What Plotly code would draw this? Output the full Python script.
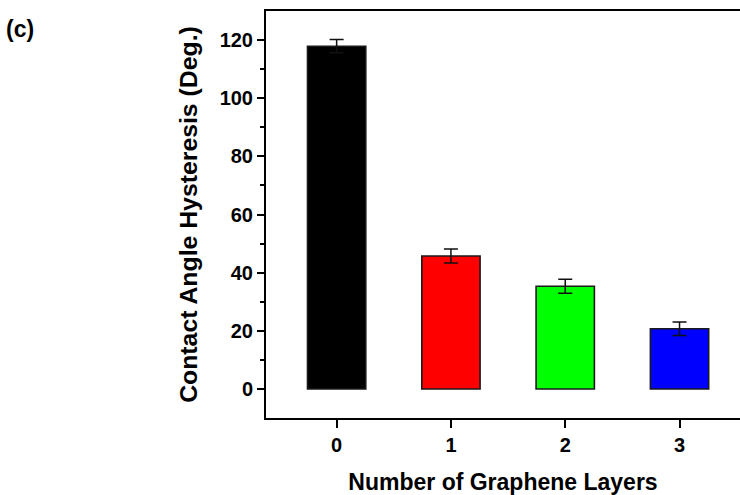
import plotly.graph_objects as go

layers = [0, 1, 2, 3]
hysteresis = [117.9, 45.7, 35.3, 20.7]
errors = [2.3, 2.4, 2.4, 2.3]
bar_colors = ["#000000", "#FF0000", "#00FF00", "#0000FF"]
y_ticks = [0, 20, 40, 60, 80, 100, 120]
x_ticks = [0, 1, 2, 3]

FONT = "Liberation Sans, Arial, sans-serif"

fig = go.Figure()
fig.add_trace(go.Bar(
    x=layers, y=hysteresis, width=0.51,
    marker=dict(color=bar_colors, line=dict(color="#1a1a1a", width=1.6)),
    error_y=dict(type="data", array=errors, visible=True, color="#111111",
                 thickness=1.5, width=7),
    showlegend=False,
))

fig.update_layout(
    width=740, height=495,
    margin=dict(l=266, r=0, t=11, b=77),
    paper_bgcolor="white", plot_bgcolor="white",
    font=dict(family=FONT, color="black"),
    bargap=0.5,
)
fig.update_xaxes(
    automargin=False,
    range=[-0.618, 3.529],
    tickvals=x_ticks, ticktext=[str(v) for v in x_ticks],
    showline=True, linecolor="black", linewidth=2, mirror=True,
    ticks="outside", ticklen=8, tickwidth=2, tickcolor="black",
    tickfont=dict(size=20, family=FONT, weight="bold"),
    showgrid=False, zeroline=False,
    title=dict(text="Number of Graphene Layers", standoff=21,
               font=dict(size=23, family=FONT, weight="bold")),
)
fig.update_yaxes(
    automargin=False,
    range=[-10, 130],
    tickvals=y_ticks, ticktext=[str(v) for v in y_ticks],
    showline=True, linecolor="black", linewidth=2, mirror=False,
    ticks="outside", ticklen=7, tickwidth=2, tickcolor="black",
    minor=dict(ticks="outside", ticklen=4, tickwidth=1.5, tickcolor="black",
               tickvals=[10, 30, 50, 70, 90, 110]),
    tickfont=dict(size=20, family=FONT, weight="bold"),
    showgrid=False, zeroline=False,
    title=dict(text="Contact Angle Hysteresis (Deg.)", standoff=15,
               font=dict(size=24.8, family=FONT, weight="bold")),
)
fig.add_annotation(
    text="(c)", xref="paper", yref="paper", x=-0.5527, y=0.992,
    xanchor="left", yanchor="top", showarrow=False,
    font=dict(size=23, family=FONT, weight="bold"),
)
fig.write_html(
    "out.html",
    config={"displayModeBar": False},
    post_script="document.body.style.margin='0';document.body.style.overflow='hidden';",
)
